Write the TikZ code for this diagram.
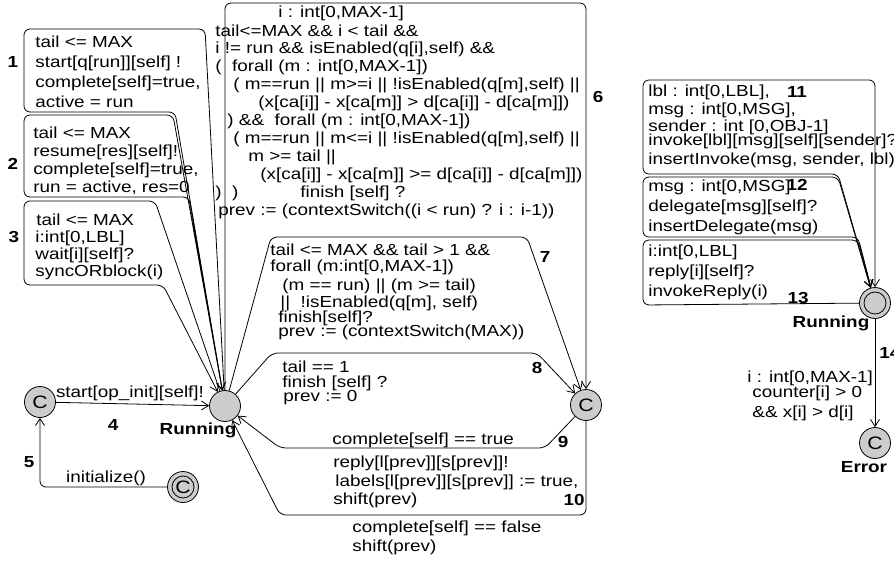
\documentclass[tikz,border=0pt]{standalone}
\usepackage{fontspec}
\setmainfont{Liberation Sans}[FakeStretch=1.18]
\usetikzlibrary{arrows.meta}
\definecolor{locgray}{rgb}{0.8,0.8,0.8}

\begin{document}
\begin{tikzpicture}[x=1pt, y=-1pt, >={Straight Barb[length=7pt,width=9pt]},
  line width=0.8pt, font=\fontsize{16}{18}\selectfont,
  loc/.style={circle, draw, fill=locgray, minimum size=31pt, inner sep=0pt,
    font=\fontsize{18}{18}\selectfont},
  trans/.style={->, rounded corners=6pt},
  lbl/.style={anchor=west, inner sep=0pt},
  num/.style={inner sep=0pt, font=\fontsize{16}{18}\selectfont\bfseries}]
  \useasboundingbox (0,0) rectangle (894,562);
  % locations of the object automaton
  \node[loc] (run) at (225,406) {};
  \node[loc] (cinit) at (40,402) {C};
  \node[loc] (init) at (183,487) {C};
  \draw (init.center) circle (11pt);
  \node[loc] (cmid) at (586,405) {C};
  \node[font=\fontsize{16}{18}\selectfont\bfseries] (runname) at (198,430) {Running};
  % initial part
  \draw[trans] (init) -- (40,487) -- (cinit);
  \draw[->] (cinit) -- (run);
  \node (l4a) at (130,393) {start[op\_init][self]!};
  \node[num] (n4) at (113,425) {4};
  \node (l5a) at (106,478) {initialize()};
  \node[num] (n5) at (29,462) {5};
  % self loops 1-3
  \draw[trans] (run) -- (205,29) -- (24,29) -- (24,112) -- (175,112) -- (run);
  \draw[trans] (run) -- (173,115) -- (24,115) -- (24,197) -- (189,197) -- (run);
  \draw[trans] (run) -- (155,201) -- (24,201) -- (24,285) -- (163,285) -- (run);
  \node[lbl] (l1a) at (35,42) {tail <= MAX};
  \node[lbl] (l1b) at (35,63) {start[q[run]][self] !};
  \node[lbl] (l1c) at (35,83) {complete[self]=true,};
  \node[lbl] (l1d) at (35,102) {active = run};
  \node[num] (n1) at (13,62) {1};
  \node[lbl] (l2a) at (33,133) {tail <= MAX};
  \node[lbl] (l2b) at (33,152) {resume[res][self]!};
  \node[lbl] (l2c) at (33,170) {complete[self]=true,};
  \node[lbl] (l2d) at (33,188) {run = active, res=0};
  \node[num] (n2) at (13,164) {2};
  \node[lbl] (l3a) at (36,220) {tail <= MAX};
  \node[lbl] (l3b) at (35,238) {i:int[0,LBL]};
  \node[lbl] (l3c) at (35,255) {wait[i][self]?};
  \node[lbl] (l3d) at (35,272) {syncORblock(i)};
  \node[num] (n3) at (14,237) {3};
  % context switch edges 6-8
  \draw[trans] (run) -- (225,3) -- (586,3) -- (cmid);
  \draw[trans] (run) -- (271,237) -- (527,237) -- (cmid);
  \draw[trans] (run) -- (272,353) -- (537,353) -- (cmid);
  \node[lbl] (l6a) at (278,13) {i : int[0,MAX-1]};
  \node[lbl] (l6b) at (215,31) {tail<=MAX \&\& i < tail \&\&};
  \node[lbl] (l6c) at (215,49) {i != run \&\& isEnabled(q[i],self) \&\&};
  \node[lbl] (l6d) at (215,67) {(\ \ forall (m : int[0,MAX-1])};
  \node[lbl] (l6e) at (233,85) {( m==run || m>=i || !isEnabled(q[m],self) ||};
  \node[lbl] (l6f) at (258,103) {(x[ca[i]] - x[ca[m]] > d[ca[i]] - d[ca[m]])};
  \node[lbl] (l6g) at (227,121) {) \&\&\ \ forall (m : int[0,MAX-1])};
  \node[lbl] (l6h) at (233,139) {( m==run || m<=i || !isEnabled(q[m],self) ||};
  \node[lbl] (l6i) at (248,157) {m >= tail ||};
  \node[lbl] (l6j) at (260,175) {(x[ca[i]] - x[ca[m]] >= d[ca[i]] - d[ca[m]])};
  \node[lbl] (l6k) at (215,193) {)\ \ )};
  \node[lbl] (l6l) at (300,193) {finish [self] ?};
  \node[lbl] (l6m) at (218,211) {prev := (contextSwitch((i < run) ? i : i-1))};
  \node[num] (n6) at (598,97) {6};
  \node[lbl] (l7a) at (270,250) {tail <= MAX \&\& tail > 1 \&\&};
  \node[lbl] (l7b) at (270,267) {forall (m:int[0,MAX-1])};
  \node[lbl] (l7c) at (282,286) {(m == run) || (m >= tail)};
  \node[lbl] (l7d) at (280,303) {||\ \ !isEnabled(q[m], self)};
  \node[lbl] (l7e) at (278,318) {finish[self]?};
  \node[lbl] (l7f) at (278,332) {prev := (contextSwitch(MAX))};
  \node[num] (n7) at (545,257) {7};
  \node[lbl] (l8a) at (282,367) {tail == 1};
  \node[lbl] (l8b) at (282,383) {finish [self] ?};
  \node[lbl] (l8c) at (283,398) {prev := 0};
  \node[num] (n8) at (537,368) {8};
  % back to Running: 9 and 10
  \draw[trans] (cmid) -- (545,448) -- (280,448) -- (run);
  \draw[trans] (cmid) -- (586,515) -- (280,515) -- (run);
  \node[lbl] (l9a) at (332,440) {complete[self] == true};
  \node[lbl] (l9b) at (333,463) {reply[l[prev]][s[prev]]!};
  \node[lbl] (l9c) at (335,482) {labels[l[prev]][s[prev]] := true,};
  \node[lbl] (l9d) at (333,500) {shift(prev)};
  \node[num] (n9) at (563,442) {9};
  \node[lbl] (l10a) at (352,528) {complete[self] == false};
  \node[lbl] (l10b) at (352,547) {shift(prev)};
  \node[num] (n10) at (574,500) {10};
  % queue automaton
  \node[loc] (run2) at (875,303) {};
  \draw (run2.center) circle (11pt);
  \node[loc] (err) at (875,443) {C};
  \node[font=\fontsize{16}{18}\selectfont\bfseries] (run2name) at (831,323) {Running};
  \node[font=\fontsize{16}{18}\selectfont\bfseries] (errname) at (864,467) {Error};
  \draw[trans] (run2) -- (838,174) -- (643,174) -- (643,80) -- (875,80) -- (run2);
  \draw[trans] (run2) -- (858,237) -- (643,237) -- (643,177) -- (838,177) -- (run2);
  \draw[trans] (run2) -- (643,305) -- (643,240) -- (858,240) -- (run2);
  \draw[->] (run2) -- (err);
  \node[lbl] (l11a) at (648,92) {lbl : int[0,LBL],};
  \node[lbl] (l11b) at (648,110) {msg : int[0,MSG],};
  \node[lbl] (l11c) at (648,127) {sender : int [0,OBJ-1]};
  \node[lbl] (l11d) at (648,141) {invoke[lbl][msg][self][sender]?};
  \node[lbl] (l11e) at (648,160) {insertInvoke(msg, sender, lbl)};
  \node[num] (n11) at (797,92) {11};
  \node[lbl] (l12a) at (648,187) {msg : int[0,MSG]};
  \node[lbl] (l12b) at (648,207) {delegate[msg][self]?};
  \node[lbl] (l12c) at (648,227) {insertDelegate(msg)};
  \node[num] (n12) at (797,185) {12};
  \node[lbl] (l13a) at (648,252) {i:int[0,LBL]};
  \node[lbl] (l13b) at (648,272) {reply[i][self]?};
  \node[lbl] (l13c) at (648,292) {invokeReply(i)};
  \node[num] (n13) at (798,298) {13};
  \node[lbl] (l14a) at (747,378) {i : int[0,MAX-1]};
  \node[lbl] (l14b) at (752,393) {counter[i] > 0};
  \node[lbl] (l14c) at (752,413) {\&\& x[i] > d[i]};
  \node[num, anchor=west] (n14) at (879,353) {14};
\end{tikzpicture}
\end{document}
